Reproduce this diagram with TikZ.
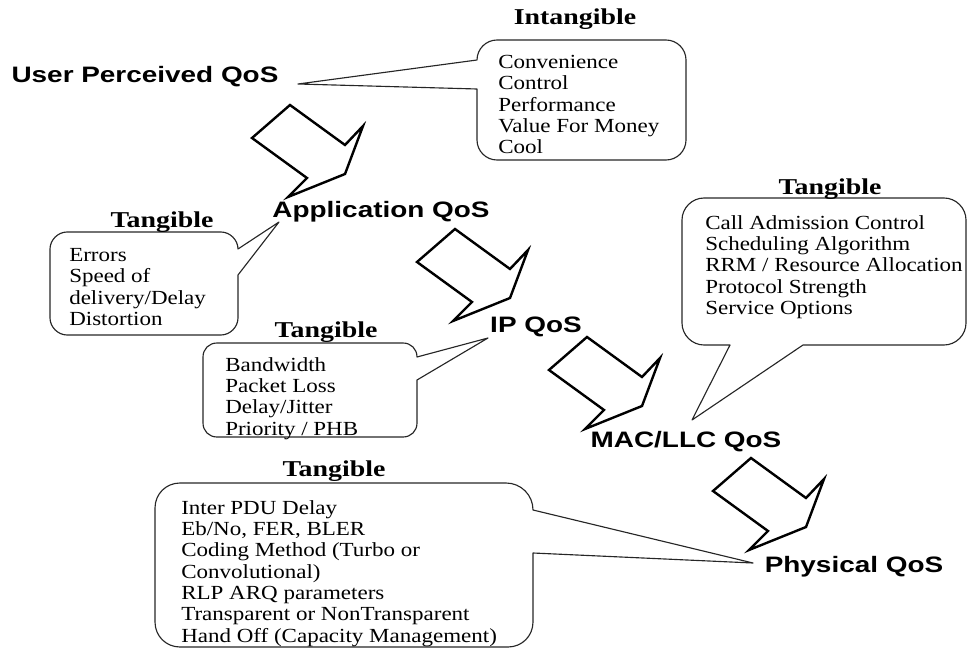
\documentclass[tikz,border=0pt]{standalone}
\usepackage{fontspec}
\setmainfont{Liberation Serif}[FakeStretch=1.15]
\newfontfamily\lblserif{Liberation Serif}[FakeStretch=1.23]
\newfontfamily\qosfont{Liberation Sans}[FakeStretch=1.25]
\usetikzlibrary{calc}
\tikzset{
  qos/.style={font=\qosfont\bfseries\fontsize{16.75}{20}\selectfont, anchor=base, inner sep=0pt},
  tanglbl/.style={font=\lblserif\bfseries\fontsize{17}{20}\selectfont, anchor=base, inner sep=0pt},
  items/.style={font=\fontsize{15}{16}\selectfont, align=left, anchor=north west, inner sep=0pt},
  bubble/.style={draw=black!85, line width=0.85pt, line join=round},
  blockarrow/.style={draw=black, line width=1.8pt, line join=miter, fill=white},
}
\newcommand{\qosarrow}[1]{\draw[blockarrow, shift={#1}] (0,0) -- (-38,33) -- (17,73) -- (-2,92) -- (55,69) -- (73,21) -- (55,40) -- cycle;}
\begin{document}
\begin{tikzpicture}[x=0.75pt,y=-0.75pt]
\useasboundingbox (0,0) rectangle (967,649);

% QoS level labels
\node[qos] (user) at (145,83) {User Perceived QoS};
\node[qos] (app) at (381,217) {Application QoS};
\node[qos] (ip) at (536,332) {IP QoS};
\node[qos] (mac) at (686,447) {MAC/LLC QoS};
\node[qos] (phy) at (854,572) {Physical QoS};

% callout tips
\coordinate (tipU) at (298,84);
\coordinate (tipA) at (279,222);
\coordinate (tipI) at (488,338);
\coordinate (tipM) at (692,420);
\coordinate (tipP) at (753,563);

% block arrows
\qosarrow{(290,105)}
\qosarrow{(455,229)}
\qosarrow{(587,337)}
\qosarrow{(751,458)}

% callouts
\draw[bubble] (477,89) -- (tipU) -- (477,60)
  .. controls (477,49) and (486,40) .. (497,40) -- (666,40)
  .. controls (677,40) and (686,49) .. (686,60) -- (686,140)
  .. controls (686,151) and (677,160) .. (666,160) -- (497,160)
  .. controls (486,160) and (477,151) .. (477,140) -- cycle;
\draw[bubble] (238,249) -- (tipA) -- (238,275) -- (238,318)
  .. controls (238,327) and (230,335) .. (221,335) -- (67,335)
  .. controls (58,335) and (50,327) .. (50,318) -- (50,249)
  .. controls (50,240) and (58,232) .. (67,232) -- (221,232)
  .. controls (230,232) and (238,240) .. (238,249) -- cycle;
\draw[bubble] (417,357) -- (tipI) -- (417,380) -- (417,423)
  .. controls (417,431) and (411,437) .. (403,437) -- (217,437)
  .. controls (209,437) and (203,431) .. (203,423) -- (203,357)
  .. controls (203,349) and (209,343) .. (217,343) -- (403,343)
  .. controls (411,343) and (417,349) .. (417,357) -- cycle;
\draw[bubble] (730,345) -- (tipM) -- (803,345) -- (944,345)
  .. controls (956,345) and (966,335) .. (966,323) -- (966,220)
  .. controls (966,208) and (956,198) .. (944,198) -- (704,198)
  .. controls (692,198) and (682,208) .. (682,220) -- (682,323)
  .. controls (682,335) and (692,345) .. (704,345) -- cycle;
\draw[bubble] (533,553) -- (tipP) -- (533,510)
  .. controls (533,495) and (521,483) .. (506,483) -- (180,483)
  .. controls (166,483) and (155,494) .. (155,508) -- (155,622)
  .. controls (155,636) and (166,647) .. (180,647) -- (508,647)
  .. controls (522,647) and (533,636) .. (533,622) -- cycle;

% headings
\node[tanglbl] (hU) at (575,25) {Intangible};
\node[tanglbl] (hA) at (162,227) {Tangible};
\node[tanglbl] (hI) at (326,337) {Tangible};
\node[tanglbl] (hM) at (830,195) {Tangible};
\node[tanglbl] (hP) at (334,476) {Tangible};

% item lists
\node[items] (iU) at (498,55) {Convenience\\Control\\Performance\\Value For Money\\Cool};
\node[items] (iA) at (69,248) {Errors\\Speed of\\delivery/Delay\\Distortion};
\node[items] (iI) at (225,357) {Bandwidth\\Packet Loss\\Delay/Jitter\\Priority / PHB};
\node[items] (iM) at (705,215) {Call Admission Control\\Scheduling Algorithm\\RRM / Resource Allocation\\Protocol Strength\\Service Options};
\node[items] (iP) at (181,500) {Inter PDU Delay\\Eb/No, FER, BLER\\Coding Method (Turbo or\\Convolutional)\\RLP ARQ parameters\\Transparent or NonTransparent\\Hand Off (Capacity Management)};
\end{tikzpicture}
\end{document}
